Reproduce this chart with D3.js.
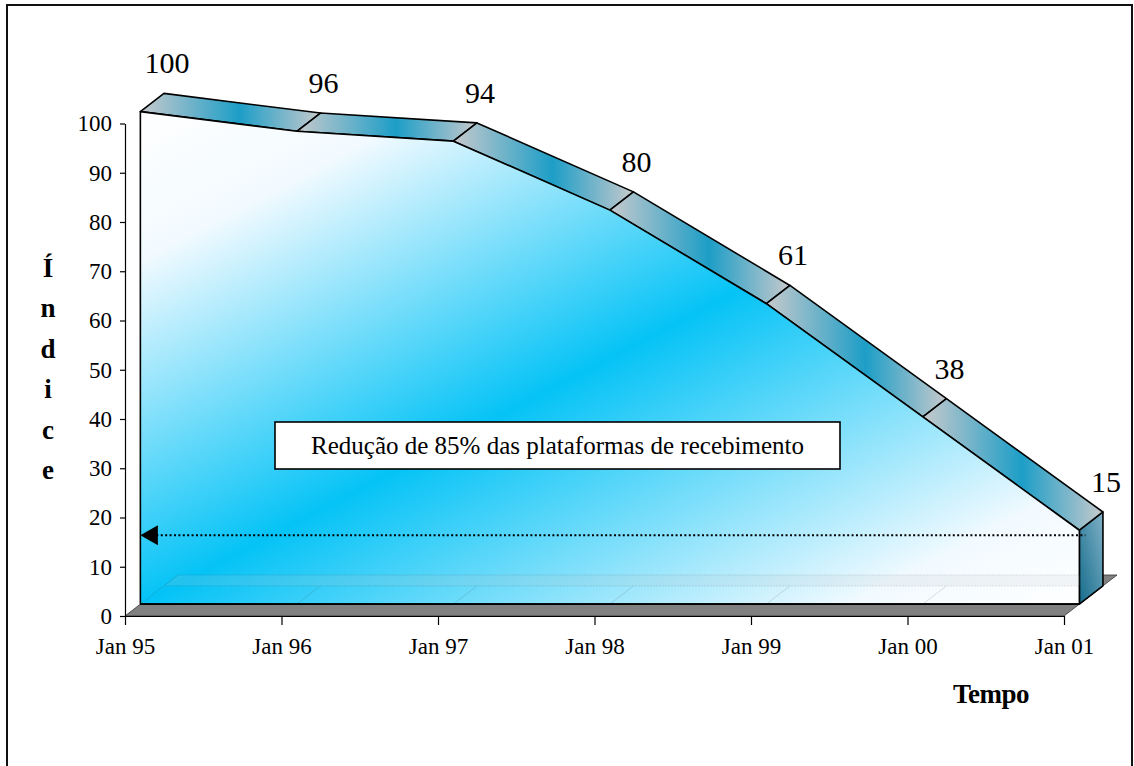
<!DOCTYPE html>
<html>
<head>
<meta charset="utf-8">
<script src="https://cdn.jsdelivr.net/npm/d3@7"></script>
<style>
  body { margin: 0; background: #fff; }
  svg { display: block; }
  text { font-family: "Liberation Serif", "Times New Roman", serif; fill: #000; }
</style>
</head>
<body>
<svg id="chart" width="1134" height="766"></svg>
<script>
// Index of receiving platforms over time (base Jan 95 = 100)
const categories = ["Jan 95", "Jan 96", "Jan 97", "Jan 98", "Jan 99", "Jan 00", "Jan 01"];
const indexValues = [100, 96, 94, 80, 61, 38, 15];
const yTickValues = [0, 10, 20, 30, 40, 50, 60, 70, 80, 90, 100];
const yTitleLetters = ["Í", "n", "d", "i", "c", "e"];
const xTitle = "Tempo";
const noteText = "Redução de 85% das plataformas de recebimento";
const arrowLevel = 14;

const W = 1134, H = 766;
const svg = d3.select("#chart");

const x = d3.scalePoint().domain(categories).range([125, 1064]);
const y = d3.scaleLinear().domain([0, 100]).range([616, 123.5]);

// oblique projection for the 3-D area: z = 0 is the front of the floor, z = 1 the back
const depth = { dx: 53, dy: -41 };
const zFront = 0.29, zBack = 0.735;
const P = (c, v, z) => [x(c) + z * depth.dx, y(v) + z * depth.dy];
const poly = pts => "M" + pts.map(p => p[0].toFixed(2) + "," + p[1].toFixed(2)).join("L") + "Z";

const first = categories[0], last = categories[categories.length - 1];
const lastVal = indexValues[indexValues.length - 1];

// ---------- gradients ----------
const defs = svg.append("defs");

const gFront = defs.append("linearGradient").attr("id", "gFront")
  .attr("x1", 0).attr("y1", 0).attr("x2", 1).attr("y2", 1);
[[0, "#ffffff"], [0.15, "#f2faff"], [0.5, "#05c3f6"], [0.88, "#f2faff"], [1, "#ffffff"]]
  .forEach(([o, c]) => gFront.append("stop").attr("offset", o).attr("stop-color", c));

const gTop = defs.append("linearGradient").attr("id", "gTop")
  .attr("x1", 0).attr("y1", 0).attr("x2", 1).attr("y2", 0);
gTop.append("stop").attr("offset", 0).attr("stop-color", "#c6c9cc");
gTop.append("stop").attr("offset", 0.55).attr("stop-color", "#1d9ec7");
gTop.append("stop").attr("offset", 1).attr("stop-color", "#c6c9cc");

const gEnd = defs.append("linearGradient").attr("id", "gEnd")
  .attr("x1", 1).attr("y1", 0).attr("x2", 0).attr("y2", 1);
gEnd.append("stop").attr("offset", 0).attr("stop-color", "#7fb0c6");
gEnd.append("stop").attr("offset", 1).attr("stop-color", "#156c8c");

// ---------- frame ----------
svg.append("rect")
  .attr("x", 7).attr("y", 5).attr("width", 1125).attr("height", H + 20)
  .attr("fill", "none").attr("stroke", "#111").attr("stroke-width", 2);

// ---------- floor ----------
svg.append("path")
  .attr("d", poly([P(first, 0, 0), P(last, 0, 0), P(last, 0, 1), P(first, 0, 1)]))
  .attr("fill", "#808080").attr("stroke", "#333").attr("stroke-width", 0.8);

// ---------- right end face ----------
svg.append("path")
  .attr("d", poly([P(last, 0, zFront), P(last, lastVal, zFront), P(last, lastVal, zBack), P(last, 0, zBack)]))
  .attr("fill", "url(#gEnd)").attr("stroke", "#000").attr("stroke-width", 1.6)
  .attr("stroke-linejoin", "round");

// ---------- top strips ----------
const segs = d3.pairs(categories.map((c, i) => ({ c, v: indexValues[i] })));
svg.append("g").selectAll("path").data(segs).join("path")
  .attr("d", ([a, b]) => poly([P(a.c, a.v, zFront), P(b.c, b.v, zFront), P(b.c, b.v, zBack), P(a.c, a.v, zBack)]))
  .attr("fill", "url(#gTop)").attr("stroke", "#000").attr("stroke-width", 1.6)
  .attr("stroke-linejoin", "round");

// ---------- front face ----------
const frontTop = categories.map((c, i) => P(c, indexValues[i], zFront));
const frontPath = poly([...frontTop, P(last, 0, zFront), P(first, 0, zFront)]);
defs.append("clipPath").attr("id", "frontClip").append("path").attr("d", frontPath);

svg.append("path")
  .attr("d", frontPath)
  .attr("fill", "url(#gFront)").attr("stroke", "#000").attr("stroke-width", 1.6)
  .attr("stroke-linejoin", "round");

// floor edges showing faintly through the front face
const ghost = svg.append("g").attr("clip-path", "url(#frontClip)").attr("opacity", 0.16);
ghost.append("path")
  .attr("d", poly([P(first, 0, zBack), P(last, 0, zBack), P(last, 0, 1), P(first, 0, 1)]))
  .attr("fill", "#b8c2c8").attr("stroke", "#3a4348").attr("stroke-width", 1)
  .attr("stroke-dasharray", "2,1");
ghost.selectAll("line.div").data(categories.slice(1, -1)).join("line")
  .attr("x1", c => P(c, 0, zFront + 0.02)[0]).attr("y1", c => P(c, 0, zFront + 0.02)[1])
  .attr("x2", c => P(c, 0, zBack)[0]).attr("y2", c => P(c, 0, zBack)[1])
  .attr("stroke", "#3a4348").attr("stroke-width", 1);
ghost.append("line")
  .attr("x1", P(first, 0, zFront)[0]).attr("y1", P(first, 0, zFront)[1])
  .attr("x2", P(first, 0, 1)[0]).attr("y2", P(first, 0, 1)[1])
  .attr("stroke", "#3a4348").attr("stroke-width", 1);

// re-stroke the front bottom edge over the faint floor lines
svg.append("line")
  .attr("x1", P(first, 0, zFront)[0]).attr("y1", P(first, 0, zFront)[1])
  .attr("x2", P(last, 0, zFront)[0]).attr("y2", P(last, 0, zFront)[1])
  .attr("stroke", "#000").attr("stroke-width", 1.6);

// ---------- axes ----------
const yAxis = svg.append("g").attr("transform", "translate(125,0)")
  .call(d3.axisLeft(y).tickValues(yTickValues).tickSize(5).tickSizeOuter(0).tickPadding(8));
const xAxis = svg.append("g").attr("transform", "translate(0,616)")
  .call(d3.axisBottom(x).tickSize(9).tickSizeOuter(0).tickPadding(13));
[yAxis, xAxis].forEach(g => {
  g.select(".domain").attr("stroke", "#000").attr("stroke-width", 1.2);
  g.selectAll(".tick line").attr("stroke", "#000").attr("stroke-width", 1.2);
  g.selectAll(".tick text").attr("font-family", "Liberation Serif, Times New Roman, serif")
    .attr("font-size", 23).attr("fill", "#000");
});

// ---------- value labels ----------
svg.append("g").selectAll("text").data(categories).join("text")
  .attr("x", (c, i) => P(c, indexValues[i], zBack)[0] + 3)
  .attr("y", (c, i) => P(c, indexValues[i], zBack)[1] - 20)
  .attr("text-anchor", "middle").attr("font-size", 30)
  .text((c, i) => indexValues[i]);

// ---------- dotted arrow ----------
const arrowY = P(first, arrowLevel, zFront)[1];
const arrowX0 = P(first, 0, zFront)[0];
const arrowX1 = P(last, 0, zFront)[0] + 6;
svg.append("line")
  .attr("x1", arrowX0 + 16).attr("y1", arrowY).attr("x2", arrowX1).attr("y2", arrowY)
  .attr("stroke", "#000").attr("stroke-width", 2).attr("stroke-dasharray", "2,2.4");
svg.append("path")
  .attr("d", `M${arrowX0},${arrowY}L${arrowX0 + 17.5},${arrowY - 10}L${arrowX0 + 17.5},${arrowY + 10}Z`)
  .attr("fill", "#000");

// ---------- note box ----------
svg.append("rect")
  .attr("x", 275).attr("y", 422).attr("width", 565).attr("height", 47)
  .attr("fill", "#fff").attr("stroke", "#000").attr("stroke-width", 1.6);
svg.append("text")
  .attr("x", 557.5).attr("y", 454).attr("text-anchor", "middle").attr("font-size", 25)
  .text(noteText);

// ---------- axis titles ----------
svg.append("g").selectAll("text").data(yTitleLetters).join("text")
  .attr("x", 48).attr("y", (d, i) => 277 + i * 40.4)
  .attr("text-anchor", "middle").attr("font-size", 27).attr("font-weight", "bold")
  .text(d => d);

svg.append("text")
  .attr("x", 991).attr("y", 703).attr("text-anchor", "middle")
  .attr("font-size", 27).attr("font-weight", "bold").attr("letter-spacing", -0.5)
  .text(xTitle);
</script>
</body>
</html>
